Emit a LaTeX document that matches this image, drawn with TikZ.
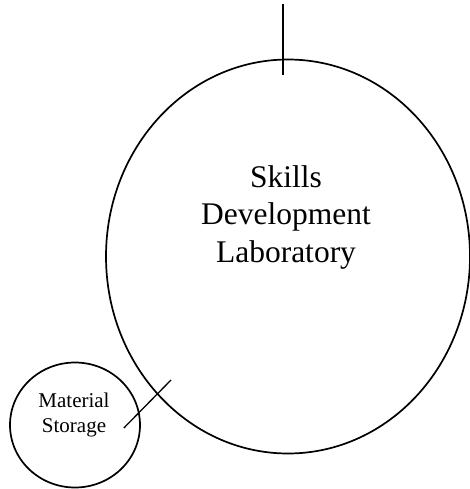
\documentclass[tikz,border=0pt]{standalone}
\usepackage{fontspec}
\setmainfont{Liberation Serif}
\usetikzlibrary{shapes.geometric}
\tikzset{
  room/.style={draw, ellipse, line width=1.7pt, inner sep=0pt},
  wall/.style={line width=1.3pt}
}

\begin{document}
\begin{tikzpicture}[x=1pt, y=-1pt]
      \useasboundingbox (0, 0) rectangle (469, 489);
      \node[room, minimum width=364pt, minimum height=394pt] (lab) at (288, 256.5) {};
      \node[align=center, font=\fontsize{31.5}{37.5}\selectfont] (labtext) at (286, 217) {Skills\\Development\\Laboratory};
      \node[room, minimum width=130pt, minimum height=125pt] (storage) at (75, 425) {};
      \node[align=center, font=\fontsize{21}{25}\selectfont] (storagetext) at (74, 415) {Material\\Storage};
      \coordinate (entry) at (283, 4);
      \coordinate (door) at (171, 380);
      \draw[wall] (entry) -- ([xshift=-5pt, yshift=-16.5pt]lab.north);
      \draw[wall] ([xshift=-17pt, yshift=-3pt]storage.east) -- (door);
    \end{tikzpicture}
\end{document}
